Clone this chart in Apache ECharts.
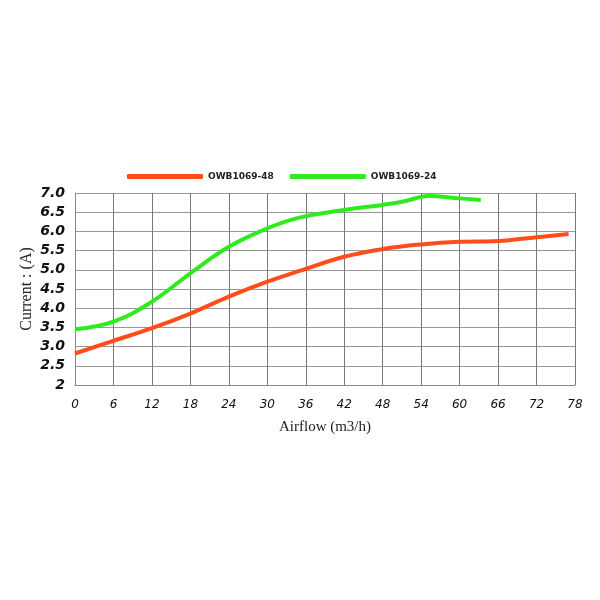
<!DOCTYPE html>
<html><head><meta charset="utf-8">
<script src="https://cdn.jsdelivr.net/npm/echarts@6/dist/echarts.min.js"></script>
<style>html,body{margin:0;padding:0;background:#fff}#c{width:600px;height:600px}</style>
</head><body><div id="c"></div>
<script>
const seriesNames = ['OWB1069-48', 'OWB1069-24'];
const xTicks = [0, 6, 12, 18, 24, 30, 36, 42, 48, 54, 60, 66, 72, 78];
const yTicks = [2, 2.5, 3, 3.5, 4, 4.5, 5, 5.5, 6, 6.5, 7];
const airflow48 = [0, 6, 12, 18, 24, 30, 35, 42, 48, 54, 60, 66, 72, 77];
const current48 = [2.82, 3.15, 3.48, 3.86, 4.30, 4.69, 4.97, 5.34, 5.54, 5.66, 5.73, 5.75, 5.85, 5.93];
const airflow24 = [0, 6, 12, 18, 24, 30, 35, 42, 48, 51, 54, 55, 60, 63.3];
const current24 = [3.45, 3.65, 4.17, 4.91, 5.60, 6.08, 6.36, 6.56, 6.69, 6.77, 6.90, 6.92, 6.86, 6.82];
const colors = ['#ff4d1a', '#2eea1e'];

const chart = echarts.init(document.getElementById('c'));
const zip = (xs, ys) => xs.map((x, i) => [x, ys[i]]);
chart.setOption({
  animation: false,
  backgroundColor: '#fff',
  legend: {
    left: 122, top: 167,
    icon: 'roundRect', itemWidth: 76, itemHeight: 5, itemGap: 16,
    textStyle: {fontSize: 9, fontWeight: 'bold', color: '#222', fontFamily: 'DejaVu Sans'},
    data: seriesNames
  },
  grid: {left: 75, right: 25, top: 193, bottom: 215},
  xAxis: {
    type: 'value', min: 0, max: 78, interval: 6,
    name: 'Airflow (m3/h)', nameLocation: 'middle', nameGap: 35,
    nameTextStyle: {fontFamily: 'Liberation Serif', fontSize: 15, color: '#222'},
    axisLine: {show: true, lineStyle: {color: '#888'}},
    axisTick: {show: false},
    axisLabel: {margin: 14, fontStyle: 'italic', fontSize: 12, color: '#111', fontFamily: 'DejaVu Sans'},
    splitLine: {show: true, lineStyle: {color: '#777', width: 1}}
  },
  yAxis: {
    type: 'value', min: 2, max: 7, interval: 0.5,
    name: 'Current : (A)', nameLocation: 'middle', nameGap: 40, nameRotate: 90, nameMoveOverlap: false,
    nameTextStyle: {fontFamily: 'Liberation Serif', fontSize: 16, color: '#222'},
    axisLine: {show: true, lineStyle: {color: '#888'}},
    axisTick: {show: false},
    axisLabel: {margin: 10, fontStyle: 'italic', fontWeight: 'bold', fontSize: 14, color: '#111', fontFamily: 'DejaVu Sans',
      formatter: v => v === 2 ? '2' : v.toFixed(1)},
    splitLine: {show: true, lineStyle: {color: '#999', width: 1}}
  },
  series: [
    {name: seriesNames[0], type: 'line', smooth: 0.4, showSymbol: false, symbol: 'none',
     data: zip(airflow48, current48), color: colors[0], lineStyle: {width: 4, color: colors[0]}},
    {name: seriesNames[1], type: 'line', smooth: 0.4, showSymbol: false, symbol: 'none',
     data: zip(airflow24, current24), color: colors[1], lineStyle: {width: 4, color: colors[1]}}
  ]
});
</script>
</body></html>
